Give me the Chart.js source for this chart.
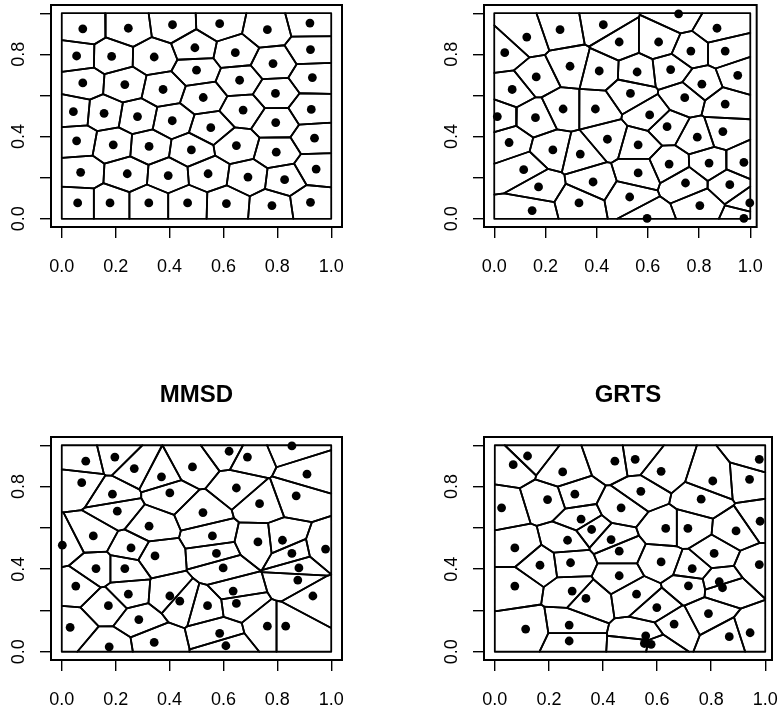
<!DOCTYPE html>
<html>
<head>
<meta charset="utf-8">
<script src="https://cdn.jsdelivr.net/npm/chart.js@4.4.1/dist/chart.umd.min.js"></script>
<style>
html, body { margin: 0; padding: 0; background: #fff; overflow: hidden; width: 781px; height: 713px; }
.panel { position: absolute; }
</style>
</head>
<body>
<div class="panel" style="left:0px;top:0px"><canvas id="c1" width="390" height="290"></canvas></div>
<div class="panel" style="left:433px;top:0px"><canvas id="c2" width="348" height="290"></canvas></div>
<div class="panel" style="left:0px;top:360px"><canvas id="c3" width="393" height="353"></canvas></div>
<div class="panel" style="left:433px;top:360px"><canvas id="c4" width="390" height="353"></canvas></div>
<script>
// sample locations, unit square
const sysX = [0.078, 0.247, 0.411, 0.586, 0.763, 0.921,
  0.055, 0.185, 0.343, 0.494, 0.644, 0.784, 0.923,
  0.078, 0.234, 0.376, 0.500, 0.660, 0.793, 0.930,
  0.043, 0.157, 0.281, 0.410, 0.525, 0.673, 0.794, 0.926,
  0.055, 0.191, 0.324, 0.481, 0.553, 0.648, 0.796, 0.938,
  0.070, 0.243, 0.395, 0.543, 0.691, 0.827, 0.944,
  0.059, 0.179, 0.323, 0.467, 0.611, 0.780, 0.923];
const sysY = [0.924, 0.927, 0.944, 0.949, 0.920, 0.952,
  0.792, 0.790, 0.787, 0.832, 0.808, 0.755, 0.823,
  0.661, 0.653, 0.629, 0.723, 0.674, 0.610, 0.687,
  0.521, 0.513, 0.497, 0.477, 0.590, 0.529, 0.468, 0.532,
  0.379, 0.360, 0.352, 0.335, 0.443, 0.356, 0.324, 0.392,
  0.226, 0.219, 0.210, 0.219, 0.203, 0.190, 0.242,
  0.077, 0.077, 0.077, 0.077, 0.074, 0.064, 0.080];

const srsX = [0.127, 0.257, 0.426, 0.488, 0.041, 0.296, 0.410, 0.164, 0.070, 0.269,
  0.395, 0.012, 0.161, 0.058, 0.229, 0.336, 0.442, 0.115, 0.173, 0.386,
  0.331, 0.148, 0.720, 0.870, 0.642, 0.768, 0.902, 0.558, 0.689, 0.951,
  0.811, 0.532, 0.744, 0.902, 0.607, 0.675, 0.793, 0.893, 0.562, 0.683,
  0.839, 0.975, 0.562, 0.747, 0.920, 0.529, 0.803, 0.998, 0.597, 0.975];
const srsY = [0.884, 0.920, 0.944, 0.860, 0.808, 0.742, 0.719, 0.690, 0.629, 0.534,
  0.534, 0.497, 0.492, 0.371, 0.335, 0.315, 0.387, 0.239, 0.155, 0.179,
  0.077, 0.040, 0.997, 0.927, 0.860, 0.816, 0.816, 0.714, 0.726, 0.698,
  0.655, 0.610, 0.589, 0.558, 0.505, 0.448, 0.397, 0.424, 0.360, 0.266,
  0.271, 0.274, 0.223, 0.174, 0.166, 0.106, 0.064, 0.077, 0.002, 0.002];

const mmsdX = [0.089, 0.197, 0.269, 0.074, 0.188, 0.370, 0.401, 0.485, 0.206, 0.324,
  0.117, 0.002, 0.257, 0.346, 0.127, 0.234, 0.052, 0.247, 0.401, 0.438,
  0.173, 0.286, 0.031, 0.343, 0.176, 0.621, 0.689, 0.854, 0.910, 0.648,
  0.870, 0.734, 0.524, 0.559, 0.728, 0.819, 0.979, 0.574, 0.854, 0.599,
  0.880, 0.876, 0.636, 0.648, 0.932, 0.541, 0.763, 0.831, 0.586, 0.609];
const mmsdY = [0.923, 0.943, 0.887, 0.819, 0.763, 0.847, 0.769, 0.895, 0.681, 0.608,
  0.561, 0.516, 0.503, 0.464, 0.403, 0.403, 0.318, 0.279, 0.270, 0.245,
  0.223, 0.156, 0.118, 0.045, 0.024, 0.971, 0.943, 0.997, 0.860, 0.793,
  0.755, 0.717, 0.674, 0.561, 0.532, 0.540, 0.497, 0.476, 0.476, 0.406,
  0.406, 0.347, 0.294, 0.234, 0.270, 0.223, 0.124, 0.124, 0.089, 0.029];

const grtsX = [0.121, 0.068, 0.251, 0.444, 0.296, 0.195, 0.025, 0.467, 0.319, 0.358,
  0.269, 0.430, 0.460, 0.074, 0.280, 0.167, 0.460, 0.074, 0.286, 0.337,
  0.114, 0.275, 0.275, 0.519, 0.615, 0.978, 0.806, 0.942, 0.540, 0.763,
  0.981, 0.632, 0.714, 0.892, 0.811, 0.615, 0.978, 0.730, 0.716, 0.830,
  0.842, 0.524, 0.599, 0.790, 0.663, 0.867, 0.944, 0.558, 0.553, 0.578];
const grtsY = [0.948, 0.906, 0.871, 0.923, 0.763, 0.737, 0.697, 0.697, 0.642, 0.592,
  0.540, 0.543, 0.487, 0.503, 0.431, 0.419, 0.368, 0.318, 0.294, 0.258,
  0.110, 0.129, 0.052, 0.932, 0.874, 0.932, 0.827, 0.835, 0.777, 0.739,
  0.632, 0.597, 0.597, 0.585, 0.476, 0.435, 0.422, 0.403, 0.319, 0.339,
  0.310, 0.279, 0.214, 0.185, 0.134, 0.073, 0.092, 0.077, 0.040, 0.036];

const xTicks = [0, 0.2, 0.4, 0.6, 0.8, 1.0];
const yTicks = [0, 0.2, 0.4, 0.6, 0.8, 1.0];
const yLabelVals = [0, 0.4, 0.8];

const FONT = "'Liberation Sans', Arial, Helvetica, sans-serif";

// keep the part of poly where a*x + b*y <= c
function clipPoly(poly, a, b, c) {
  const out = [];
  for (let i = 0; i < poly.length; i++) {
    const p = poly[i], q = poly[(i + 1) % poly.length];
    const dp = a * p.x + b * p.y - c, dq = a * q.x + b * q.y - c;
    if (dp <= 0) out.push(p);
    if ((dp < 0 && dq > 0) || (dp > 0 && dq < 0)) {
      const t = dp / (dp - dq);
      out.push({ x: p.x + t * (q.x - p.x), y: p.y + t * (q.y - p.y) });
    }
  }
  return out;
}

// Voronoi (Dirichlet) tiles clipped to the unit square
function voronoiCells(xs, ys) {
  return xs.map((xi, i) => {
    let poly = [{ x: 0, y: 0 }, { x: 1, y: 0 }, { x: 1, y: 1 }, { x: 0, y: 1 }];
    xs.forEach((xj, j) => {
      if (j === i) return;
      const a = xj - xi, b = ys[j] - ys[i];
      if (a === 0 && b === 0) return;
      const c = (xj * xj - xi * xi + ys[j] * ys[j] - ys[i] * ys[i]) / 2;
      poly = clipPoly(poly, a, b, c);
    });
    return poly;
  });
}

const framePlugin = {
  id: 'frame',
  afterDraw(chart) {
    const { ctx, chartArea: a, scales } = chart;
    ctx.save();
    ctx.strokeStyle = '#000';
    ctx.lineWidth = 2;
    ctx.strokeRect(a.left, a.top, a.right - a.left, a.bottom - a.top);
    // rotated y labels, R style
    ctx.fillStyle = '#000';
    ctx.font = '18px ' + FONT;
    ctx.textAlign = 'center';
    ctx.textBaseline = 'middle';
    yLabelVals.forEach(v => {
      const y = scales.y.getPixelForValue(v);
      ctx.save();
      ctx.translate(a.left - 32, y);
      ctx.rotate(-Math.PI / 2);
      ctx.fillText(v.toFixed(1), 0, 0);
      ctx.restore();
    });
    ctx.restore();
  }
};

function makePanel(id, xs, ys, opts) {
  const cells = voronoiCells(xs, ys);
  const datasets = [{
    data: xs.map((x, i) => ({ x: x, y: ys[i] })),
    showLine: false,
    pointRadius: 4.4,
    pointBackgroundColor: '#000',
    pointBorderWidth: 0
  }];
  cells.forEach(poly => {
    const pts = poly.concat([poly[0]]);
    datasets.push({
      data: pts,
      showLine: true,
      borderColor: '#000',
      borderWidth: 1.8,
      borderJoinStyle: 'round',
      borderCapStyle: 'round',
      pointRadius: 0,
      tension: 0,
      fill: false
    });
  });

  const scales = {
    x: {
      type: 'linear',
      min: -0.04,
      max: opts.xMax,
      afterBuildTicks: s => { s.ticks = xTicks.map(v => ({ value: v })); },
      afterFit: s => { s.height = opts.xHeight; },
      border: { display: false },
      grid: { display: true, drawOnChartArea: false, drawTicks: true, tickLength: 11, color: '#000', lineWidth: 1.4 },
      ticks: {
        autoSkip: false,
        maxRotation: 0,
        padding: 18,
        color: '#000',
        font: { family: FONT, size: 18 },
        callback: v => v.toFixed(1)
      }
    },
    y: {
      type: 'linear',
      min: -0.04,
      max: 1.04,
      afterBuildTicks: s => { s.ticks = yTicks.map(v => ({ value: v })); },
      afterFit: s => { s.width = 51; },
      border: { display: false },
      grid: { display: true, drawOnChartArea: false, drawTicks: true, tickLength: 11, color: '#000', lineWidth: 1.4 },
      ticks: { display: false }
    }
  };
  if (opts.rightGap) {
    // empty box on the right so the title centres over the frame
    scales.yRight = {
      type: 'linear',
      position: 'right',
      afterFit: s => { s.width = opts.rightGap; },
      border: { display: false },
      grid: { display: false },
      ticks: { display: false }
    };
  }

  new Chart(document.getElementById(id), {
    type: 'scatter',
    data: { datasets: datasets },
    plugins: [framePlugin],
    options: {
      responsive: false,
      animation: false,
      devicePixelRatio: 1,
      events: [],
      layout: { padding: opts.padding },
      plugins: {
        legend: { display: false },
        tooltip: { enabled: false },
        title: {
          display: !!opts.title,
          text: opts.title || '',
          color: '#000',
          font: { family: FONT, size: 24, weight: 'bold', lineHeight: 1.2 },
          padding: { top: 20.6, bottom: 27.6 }
        }
      },
      scales: scales
    }
  });
}

makePanel('c1', sysX, sysY, { padding: { top: 5, right: 48, left: 0, bottom: 0 }, xHeight: 63, xMax: 1.04 });
makePanel('c2', srsX, srsY, { padding: { top: 5, right: 9, left: 0, bottom: 0 }, xHeight: 63, xMax: 1.025 });
makePanel('c3', mmsdX, mmsdY, { padding: { top: 0, right: 0, left: 0, bottom: 0 }, rightGap: 51, xHeight: 53, xMax: 1.04, title: 'MMSD' });
makePanel('c4', grtsX, grtsY, { padding: { top: 0, right: 0, left: 0, bottom: 0 }, rightGap: 51, xHeight: 53, xMax: 1.025, title: 'GRTS' });
</script>
</body>
</html>
